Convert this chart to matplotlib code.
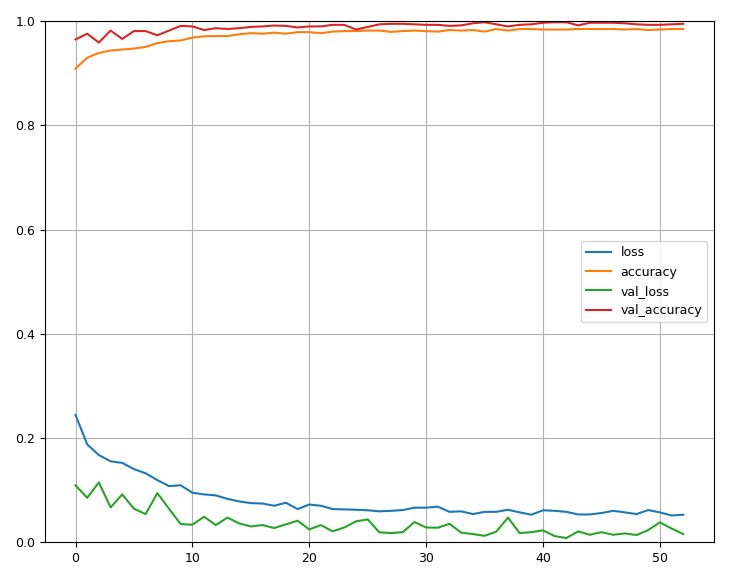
import numpy as np
import matplotlib
matplotlib.use('Agg')
import matplotlib.pyplot as plt

# training history
loss = [0.244, 0.1875, 0.167, 0.155, 0.152, 0.140, 0.132, 0.119, 0.1075, 0.109,
        0.0947, 0.0915, 0.0896, 0.083, 0.078, 0.0748, 0.074, 0.0697, 0.0755, 0.0633,
        0.072, 0.0697, 0.0633, 0.0627, 0.062, 0.061, 0.059, 0.060, 0.0614, 0.066,
        0.066, 0.068, 0.058, 0.059, 0.0537, 0.058, 0.058, 0.062, 0.057, 0.0525,
        0.061, 0.060, 0.058, 0.053, 0.053, 0.0557, 0.060, 0.057, 0.0537, 0.0614,
        0.057, 0.051, 0.0525]
accuracy = [0.909, 0.930, 0.939, 0.9437, 0.9456, 0.9475, 0.9507, 0.958, 0.9616, 0.963,
            0.9686, 0.971, 0.9715, 0.9715, 0.975, 0.977, 0.976, 0.978, 0.976, 0.979,
            0.979, 0.977, 0.980, 0.981, 0.981, 0.982, 0.982, 0.9795, 0.981, 0.982,
            0.981, 0.980, 0.983, 0.982, 0.983, 0.980, 0.985, 0.982, 0.985, 0.985,
            0.984, 0.984, 0.984, 0.985, 0.985, 0.985, 0.985, 0.984, 0.985, 0.983,
            0.984, 0.985, 0.985]
val_loss = [0.109, 0.085, 0.1145, 0.0665, 0.0915, 0.064, 0.0537, 0.094, 0.064, 0.0345,
            0.0333, 0.0486, 0.0326, 0.047, 0.0358, 0.030, 0.0326, 0.0269, 0.034, 0.041,
            0.0243, 0.0326, 0.0205, 0.028, 0.0397, 0.0435, 0.0186, 0.0173, 0.019, 0.0384,
            0.028, 0.0275, 0.035, 0.018, 0.0153, 0.012, 0.020, 0.047, 0.0173, 0.019,
            0.0224, 0.0115, 0.0077, 0.0205, 0.014, 0.019, 0.014, 0.0166, 0.0134, 0.023,
            0.0378, 0.026, 0.0153]
val_accuracy = [0.965, 0.976, 0.959, 0.982, 0.966, 0.981, 0.981, 0.973, 0.982, 0.991,
                0.990, 0.983, 0.9866, 0.985, 0.9866, 0.989, 0.990, 0.9917, 0.991, 0.988,
                0.990, 0.990, 0.993, 0.993, 0.984, 0.989, 0.994, 0.995, 0.995, 0.994,
                0.993, 0.993, 0.991, 0.992, 0.996, 0.998, 0.994, 0.990, 0.993, 0.994,
                0.997, 0.998, 0.998, 0.992, 0.997, 0.997, 0.997, 0.996, 0.994, 0.993,
                0.993, 0.994, 0.995]

epochs = np.arange(len(loss))

fig = plt.figure(figsize=(7.52, 5.73), dpi=100)
ax = fig.add_axes([0.06, 0.054, 0.889, 0.909])

ax.plot(epochs, loss, label='loss', color='#1f77b4')
ax.plot(epochs, accuracy, label='accuracy', color='#ff7f0e')
ax.plot(epochs, val_loss, label='val_loss', color='#2ca02c')
ax.plot(epochs, val_accuracy, label='val_accuracy', color='#d62728')

ax.grid(True)
ax.set_ylim(0, 1)
ax.tick_params(labelsize=9)
ax.legend(loc='center right', fontsize=9)

fig.savefig('out.png', dpi=100)
